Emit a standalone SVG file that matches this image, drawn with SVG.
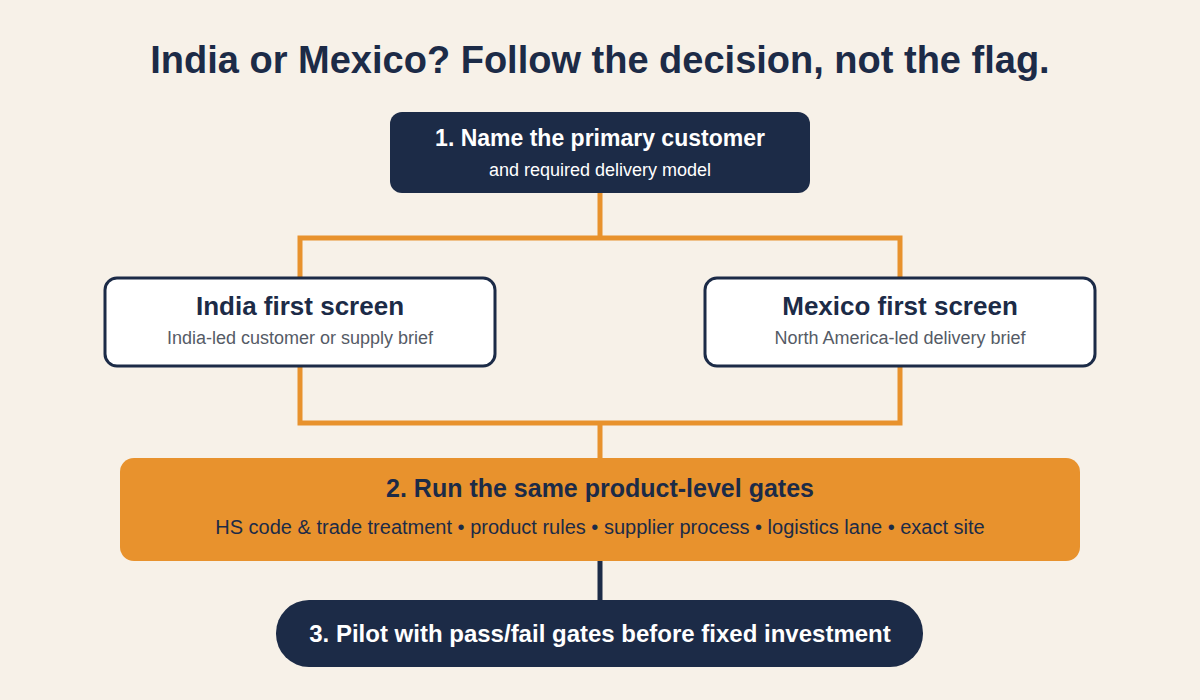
<svg xmlns="http://www.w3.org/2000/svg" width="1200" height="700" viewBox="0 0 1200 700">
<style>
text{font-family:"Liberation Sans",Arial,sans-serif;text-anchor:middle}
.b{font-weight:bold}
.or{stroke:#e8922d;stroke-width:5;fill:none}
.card{fill:#fff;stroke:#1c2b47;stroke-width:3}
</style>
<rect width="1200" height="700" fill="#f7f1e8"/>
<text x="600" y="73" class="b" font-size="38" fill="#1c2b47">India or Mexico? Follow the decision, not the flag.</text>
<g id="connectors">
<path class="or" d="M600 193V238M300 278V238H900V278M300 366V423H900V366M600 423V458"/>
<path d="M600 561V600" stroke="#1c2b47" stroke-width="5"/>
</g>
<g id="n1"><rect x="390" y="112" width="420" height="81" rx="12" fill="#1c2b47"/>
<text x="600" y="146" class="b" font-size="23" fill="#fff">1. Name the primary customer</text>
<text x="600" y="176" font-size="18" fill="#fff">and required delivery model</text></g>
<g id="india"><rect class="card" x="105" y="278" width="390" height="88" rx="12"/>
<text x="300" y="315" class="b" font-size="26" fill="#1c2b47">India first screen</text>
<text x="300" y="344" font-size="18" fill="#555b66">India-led customer or supply brief</text></g>
<g id="mexico"><rect class="card" x="705" y="278" width="390" height="88" rx="12"/>
<text x="900" y="315" class="b" font-size="26" fill="#1c2b47">Mexico first screen</text>
<text x="900" y="344" font-size="18" fill="#555b66">North America-led delivery brief</text></g>
<g id="n2"><rect x="120" y="458" width="960" height="103" rx="14" fill="#e8922d"/>
<text x="600" y="497" class="b" font-size="25" fill="#1c2b47">2. Run the same product-level gates</text>
<text x="600" y="534" font-size="20" fill="#1c2b47">HS code &amp; trade treatment • product rules • supplier process • logistics lane • exact site</text></g>
<g id="n3"><rect x="276" y="600" width="647" height="67" rx="33" fill="#1c2b47"/>
<text x="600" y="642" class="b" font-size="24" fill="#fff">3. Pilot with pass/fail gates before fixed investment</text></g>
</svg>
